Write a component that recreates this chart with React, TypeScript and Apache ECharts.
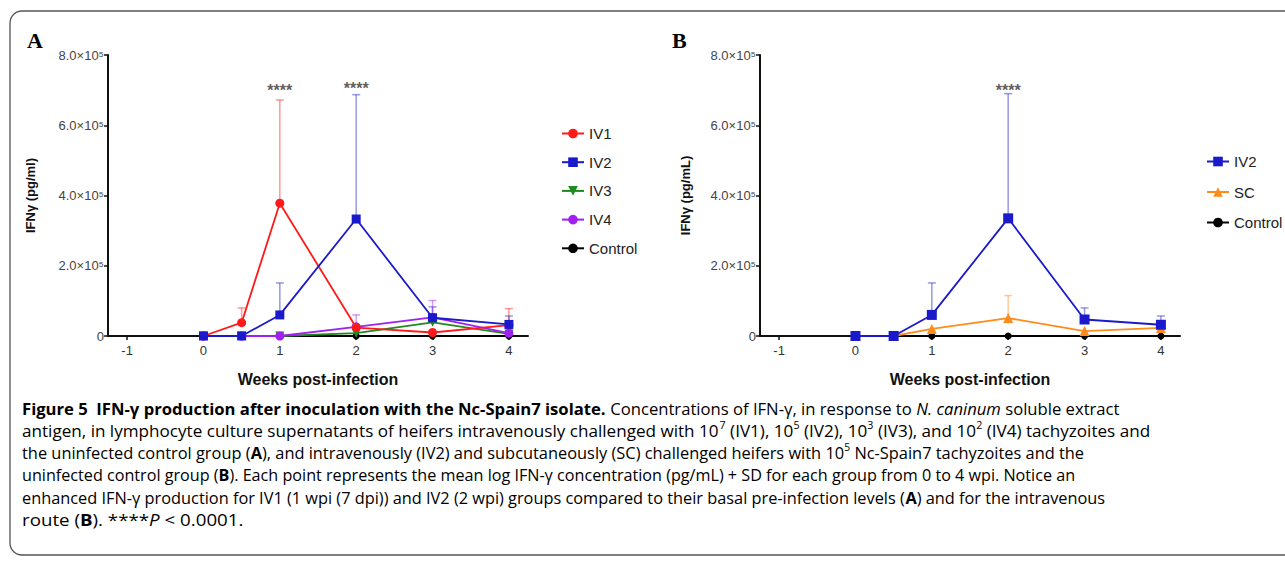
import React, { useEffect, useRef } from 'react';
import * as echarts from 'echarts';

// ---------- data ----------
const weeks = [0, 0.5, 1, 2, 3, 4];
const controlWeeks = [0, 1, 2, 3, 4];
const xTicks = [-1, 0, 1, 2, 3, 4];

// Panel A
const iv1A = [0, 38000, 378000, 24000, 10000, 31000];
const iv1ASd = [0, 42000, 294000, 0, 0, 47000];
const iv2A = [0, 0, 60000, 333000, 52000, 33000];
const iv2ASd = [0, 0, 91000, 354000, 31000, 24000];
const iv3A = [0, 0, 0, 8000, 39000, 6000];
const iv3ASd = [0, 0, 0, 0, 15000, 0];
const iv4A = [0, 0, 0, 26000, 53000, 8000];
const iv4ASd = [0, 0, 0, 34000, 48000, 0];
const controlA = [0, 0, 0, 0, 0];
const starsA = [[1, 700000], [2, 705000]];

// Panel B
const iv2B = [0, 0, 60000, 335000, 47000, 32000];
const iv2BSd = [0, 0, 91000, 355000, 33000, 25000];
const scB = [0, 0, 20000, 51000, 14000, 23000];
const scBSd = [0, 0, 0, 64000, 0, 0];
const controlB = [0, 0, 0, 0, 0];
const starsB = [[2, 700000]];

const legendA = ['IV1', 'IV2', 'IV3', 'IV4', 'Control'];
const legendB = ['IV2', 'SC', 'Control'];

// caption lines: [style, text]
const captionLines: [string, string][][] = [
  [['b', 'Figure 5  IFN-γ production after inoculation with the Nc-Spain7 isolate.'], ['n', ' Concentrations of IFN-γ, in response to '], ['i', 'N. caninum'], ['n', ' soluble extract']],
  [['n', 'antigen, in lymphocyte culture supernatants of heifers intravenously challenged with 10'], ['s', '7'], ['n', ' (IV1), 10'], ['s', '5'], ['n', ' (IV2), 10'], ['s', '3'], ['n', ' (IV3), and 10'], ['s', '2'], ['n', ' (IV4) tachyzoites and']],
  [['n', 'the uninfected control group ('], ['b', 'A'], ['n', '), and intravenously (IV2) and subcutaneously (SC) challenged heifers with 10'], ['s', '5'], ['n', ' Nc-Spain7 tachyzoites and the']],
  [['n', 'uninfected control group ('], ['b', 'B'], ['n', '). Each point represents the mean log IFN-γ concentration (pg/mL) + SD for each group from 0 to 4 wpi. Notice an']],
  [['n', 'enhanced IFN-γ production for IV1 (1 wpi (7 dpi)) and IV2 (2 wpi) groups compared to their basal pre-infection levels ('], ['b', 'A'], ['n', ') and for the intravenous']],
  [['n', 'route ('], ['b', 'B'], ['n', '). ****'], ['i', 'P'], ['n', ' < 0.0001.']],
];

const SANS = 'Liberation Sans, Arial, Helvetica, sans-serif';
const CAP = 'Open Sans, sans-serif';
const SERIF = 'Liberation Serif, Times New Roman, serif';

function lineSeries(name: string, xs: number[], ys: number[], color: string, symbol: string, size: number, idx: number, rotate = 0) {
  return {
    name,
    type: 'line',
    xAxisIndex: idx,
    yAxisIndex: idx,
    data: xs.map((x, i) => [x, ys[i]]),
    symbol,
    symbolSize: size,
    symbolRotate: rotate,
    clip: false,
    z: 3,
    lineStyle: { color, width: 1.8 },
    itemStyle: { color },
  };
}

function errSeries(xs: number[], ys: number[], sd: number[], color: string, idx: number) {
  return {
    type: 'custom',
    xAxisIndex: idx,
    yAxisIndex: idx,
    silent: true,
    z: 2,
    clip: false,
    data: xs.map((x, i) => [x, ys[i], ys[i] + sd[i]]).filter((_, i) => sd[i] > 0),
    encode: { x: 0, y: [1, 2] },
    renderItem: (params: any, api: any) => {
      const p0 = api.coord([api.value(0), api.value(1)]);
      const p1 = api.coord([api.value(0), api.value(2)]);
      const st = { stroke: color, lineWidth: 1.5, opacity: 0.45 };
      return {
        type: 'group',
        children: [
          { type: 'line', shape: { x1: p0[0], y1: p0[1], x2: p1[0], y2: p1[1] }, style: st },
          { type: 'line', shape: { x1: p1[0] - 4, y1: p1[1], x2: p1[0] + 4, y2: p1[1] }, style: st },
        ],
      };
    },
  };
}

function starSeries(data: number[][], idx: number) {
  return {
    type: 'scatter',
    xAxisIndex: idx,
    yAxisIndex: idx,
    silent: true,
    symbolSize: 0,
    data,
    label: {
      show: true,
      position: 'inside',
      formatter: '****',
      fontSize: 16,
      fontWeight: 'bold',
      color: '#333',
      fontFamily: SANS,
    },
  };
}

function xAxisCfg(idx: number) {
  return {
    type: 'value',
    gridIndex: idx,
    min: -1.25,
    max: 4.25,
    axisLine: { show: true, onZero: false, lineStyle: { color: '#111', width: 2 } },
    axisTick: { show: true, customValues: xTicks, length: 4, lineStyle: { color: '#111', width: 1.5 } },
    axisLabel: { customValues: xTicks, fontSize: 13, color: '#333', margin: 8, fontFamily: SANS },
    splitLine: { show: false },
    name: 'Weeks post-infection',
    nameLocation: 'middle',
    nameGap: 35,
    nameTextStyle: { fontWeight: 'bold', fontSize: 16, color: '#111', fontFamily: SANS },
  };
}

function yAxisCfg(idx: number, name: string, gap: number) {
  return {
    type: 'value',
    gridIndex: idx,
    min: 0,
    max: 800000,
    interval: 200000,
    axisLine: { show: true, onZero: false, lineStyle: { color: '#111', width: 2 } },
    axisTick: { show: true, length: 4, lineStyle: { color: '#111', width: 1.5 } },
    axisLabel: {
      fontSize: 13,
      color: '#444',
      margin: 4,
      fontFamily: SANS,
      formatter: (v: number) => (v === 0 ? '0' : `${(v / 100000).toFixed(1)}×10⁵`),
    },
    splitLine: { show: false },
    name,
    nameLocation: 'middle',
    nameGap: gap,
    nameTextStyle: { fontWeight: 'bold', fontSize: 13, color: '#111', fontFamily: SANS },
  };
}

function captionGraphics() {
  const base = { fontFamily: CAP, fontSize: 16, color: '#231f20', lineHeight: 22 };
  const rich = {
    n: { ...base },
    b: { ...base, fontWeight: 'bold' },
    i: { ...base, fontStyle: 'italic' },
    s: { fontFamily: CAP, fontSize: 10, color: '#231f20', lineHeight: 12, verticalAlign: 'top' },
  };
  const tops = [409, 431, 453, 475, 498, 520];
  const stretch = [1.04, 1.07, 1.024, 1.01, 1.021, 1.17];
  return captionLines.map((parts, k) => ({
    type: 'text',
    x: 22,
    y: tops[k],
    scaleX: stretch[k],
    silent: true,
    style: {
      text: parts.map(([s, t]) => `{${s}|${t}}`).join(''),
      rich,
      verticalAlign: 'middle',
      align: 'left',
    },
  }));
}

export default function App() {
  const ref = useRef<HTMLDivElement>(null);
  useEffect(() => {
    document.body.style.margin = '0';
    if (!ref.current) return;
    const chart = echarts.init(ref.current, null, { renderer: 'svg' });
    const option: any = {
      animation: false,
      backgroundColor: '#fff',
      textStyle: { fontFamily: SANS },
      grid: [
        { left: 108, top: 55, width: 420, height: 281 },
        { left: 760, top: 55, width: 420, height: 281 },
      ],
      xAxis: [xAxisCfg(0), xAxisCfg(1)],
      yAxis: [yAxisCfg(0, 'IFNγ (pg/ml)', 71), yAxisCfg(1, 'IFNγ (pg/mL)', 68)],
      legend: [
        {
          data: legendA,
          orient: 'vertical',
          left: 556,
          top: 121,
          itemWidth: 22,
          itemHeight: 12,
          itemGap: 13.7,
          textStyle: { fontSize: 15, color: '#222', fontFamily: SANS },
        },
        {
          data: legendB,
          orient: 'vertical',
          left: 1201,
          top: 149,
          itemWidth: 22,
          itemHeight: 12,
          itemGap: 15.5,
          textStyle: { fontSize: 15, color: '#222', fontFamily: SANS },
        },
      ],
      series: [
        errSeries(weeks, iv1A, iv1ASd, '#ff1a1a', 0),
        errSeries(weeks, iv2A, iv2ASd, '#1a1acc', 0),
        errSeries(weeks, iv3A, iv3ASd, '#1f8a1f', 0),
        errSeries(weeks, iv4A, iv4ASd, '#a020f0', 0),
        lineSeries('Control', controlWeeks, controlA, '#000000', 'circle', 7, 0),
        lineSeries('IV3', weeks, iv3A, '#1f8a1f', 'triangle', 9, 0, 180),
        lineSeries('IV4', weeks, iv4A, '#a020f0', 'circle', 9, 0),
        lineSeries('IV1', weeks, iv1A, '#ff1a1a', 'circle', 9, 0),
        lineSeries('IV2', weeks, iv2A, '#1a1acc', 'rect', 9, 0),
        starSeries(starsA, 0),

        errSeries(weeks, iv2B, iv2BSd, '#1a1acc', 1),
        errSeries(weeks, scB, scBSd, '#ff8c1a', 1),
        lineSeries('Control', controlWeeks, controlB, '#000000', 'circle', 7, 1),
        lineSeries('SC', weeks, scB, '#ff8c1a', 'triangle', 10, 1),
        lineSeries('IV2', weeks, iv2B, '#1a1acc', 'rect', 10, 1),
        starSeries(starsB, 1),
      ],
      graphic: [
        {
          type: 'rect',
          silent: true,
          shape: { x: 10, y: 11, width: 1290, height: 544, r: 12 },
          style: { fill: 'none', stroke: '#555', lineWidth: 1.3 },
        },
        {
          type: 'text', x: 27, y: 40, silent: true,
          style: { text: 'A', fontFamily: SERIF, fontSize: 22, fontWeight: 'bold', fill: '#000', verticalAlign: 'middle' },
        },
        {
          type: 'text', x: 672, y: 40, silent: true,
          style: { text: 'B', fontFamily: SERIF, fontSize: 22, fontWeight: 'bold', fill: '#000', verticalAlign: 'middle' },
        },
        ...captionGraphics(),
      ],
    };
    chart.setOption(option);
    return () => chart.dispose();
  }, []);
  return <div ref={ref} style={{ width: 1285, height: 563 }} />;
}
